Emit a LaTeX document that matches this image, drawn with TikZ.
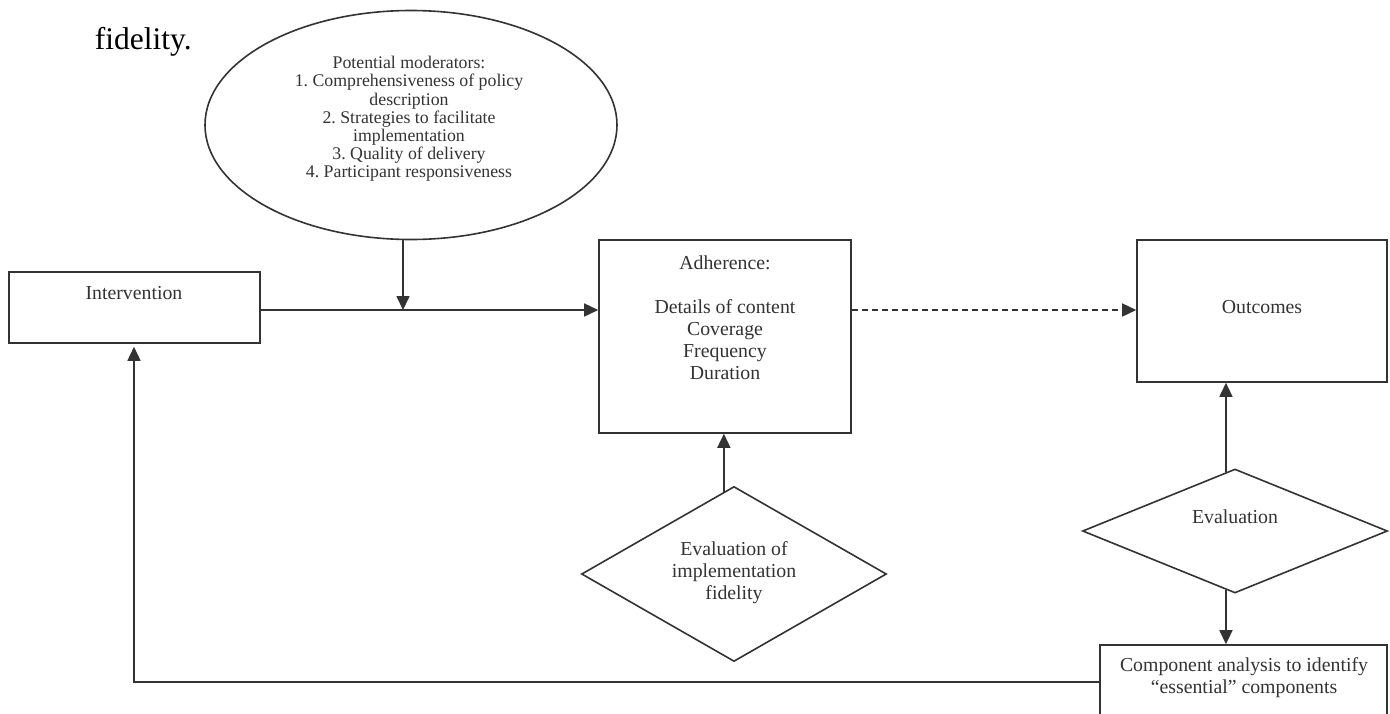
\documentclass[tikz,border=0pt]{standalone}
\usepackage{fontspec}
\setmainfont{Liberation Serif}
\usetikzlibrary{arrows.meta,shapes.geometric,calc}
\definecolor{ink}{HTML}{333333}
\frenchspacing
\begin{document}
\begin{tikzpicture}[x=1pt,y=-1pt,line width=1.6pt,
  box/.style={draw=ink,rectangle,inner sep=0pt},
  txt/.style={inner sep=0pt,align=center,text=ink,font=\fontsize{19.8}{22}\selectfont},
  smalltxt/.style={inner sep=0pt,align=center,text=ink,font=\fontsize{17.8}{18.2}\selectfont},
  arr/.style={draw=ink,-{Triangle[length=14pt,width=13pt]}},
  dsh/.style={dash pattern=on 6pt off 4pt},
]
\useasboundingbox (0,0) rectangle (1390,713);
\fill[white] (0,0) rectangle (1390,713);
\clip (0,0) rectangle (1390,713);

% heading fragment
\node[anchor=base west,inner sep=0pt,font=\fontsize{31.5}{36}\selectfont] (fid) at (94,49) {fidelity.};

% moderators ellipse
\node[ellipse,draw=ink,inner sep=0pt,minimum width=412pt,minimum height=229pt] (ell) at (411,125) {};
\node[smalltxt] (elltxt) at (409,119) {Potential moderators:\\1. Comprehensiveness of policy\\description\\2. Strategies to facilitate\\implementation\\3. Quality of delivery\\4. Participant responsiveness};

% boxes
\node[box,minimum width=251pt,minimum height=71pt] (intv) at (134.5,307.5) {};
\node[txt] (intvtxt) at (134,293) {Intervention};

\node[box,minimum width=252pt,minimum height=193pt] (adh) at (725,336.5) {};
\node[txt] (adhtxt) at (725,318) {Adherence:\\ \\Details of content\\Coverage\\Frequency\\Duration};

\node[box,minimum width=250pt,minimum height=142pt] (out) at (1262,311) {};
\node[txt] (outtxt) at (1262,307) {Outcomes};

\node[box,minimum width=287pt,minimum height=90pt] (comp) at (1243.5,690) {};
\node[txt] (comptxt) at (1244,678) {Component analysis to identify\\``essential'' components};

% diamonds
\node[diamond,draw=ink,inner sep=0pt,minimum width=305pt,minimum height=175pt] (dia1) at (734,574) {};
\node[txt] (dia1txt) at (734,573) {Evaluation of\\implementation\\fidelity};

\node[diamond,draw=ink,inner sep=0pt,minimum width=305pt,minimum height=124pt] (dia2) at (1235,531) {};
\node[txt] (dia2txt) at (1235,517) {Evaluation};

% helper coordinates
\coordinate (m) at (403,310);
\coordinate (fb) at (134,682);
\coordinate (d1t) at ($(dia1.north)!0.066!(dia1.west)$);
\coordinate (d2t) at ($(dia2.north)!0.059!(dia2.west)$);
\coordinate (d2b) at ($(dia2.south)!0.059!(dia2.west)$);

% connectors
\draw[arr] (m |- ell.south) -- (m);
\draw[arr] (intv.east |- m) -- (adh.west |- m);
\draw[arr,dsh] (adh.east |- m) -- (out.west |- m);
\draw[arr] (d1t) -- (d1t |- adh.south);
\draw[arr] (d2t) -- (d2t |- out.south);
\draw[arr] (d2b) -- (d2b |- comp.north);
\draw[arr,shorten >=3pt] (comp.west |- fb) -- (fb) -- (fb |- intv.south);
\end{tikzpicture}
\end{document}
